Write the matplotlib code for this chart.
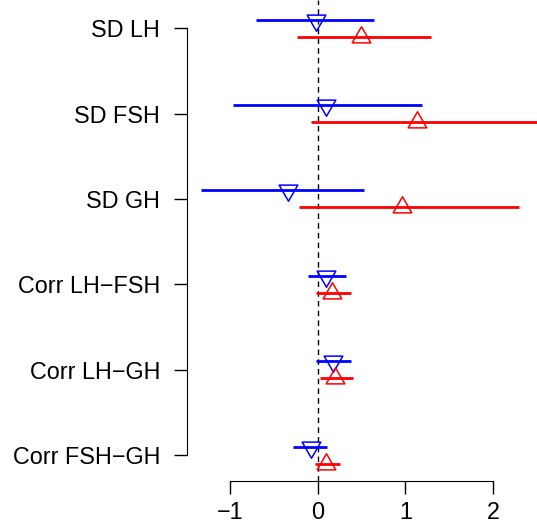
''' forest plot of SD and correlation estimates'''
import matplotlib
matplotlib.use('Agg')
import matplotlib.pyplot as plt
from matplotlib.path import Path

labels = ['SD LH', 'SD FSH', 'SD GH', 'Corr LH\u2212FSH', 'Corr LH\u2212GH',
          'Corr FSH\u2212GH']
rows = [6, 5, 4, 3, 2, 1]

blue_est = [-0.02, 0.10, -0.34, 0.10, 0.17, -0.08]
blue_lo = [-0.70, -0.97, -1.33, -0.11, -0.02, -0.28]
blue_hi = [0.64, 1.19, 0.53, 0.32, 0.38, 0.11]

red_est = [0.49, 1.13, 0.96, 0.16, 0.20, 0.10]
red_lo = [-0.24, -0.08, -0.21, -0.02, 0.03, -0.03]
red_hi = [1.29, 2.60, 2.29, 0.38, 0.40, 0.26]

xticks = [-1, 0, 1, 2]


def tri(sign):
    ''' equilateral triangle centred on its centroid'''
    verts = [(-0.5, -0.2887 * sign), (0.5, -0.2887 * sign),
             (0, 0.5774 * sign), (-0.5, -0.2887 * sign)]
    codes = [Path.MOVETO, Path.LINETO, Path.LINETO, Path.CLOSEPOLY]
    return Path(verts, codes)


def main():
    ''' main function'''
    plt.rcParams['font.family'] = ['Liberation Sans', 'DejaVu Sans']
    fig = plt.figure(figsize=(5.37, 5.31), dpi=100)
    ax = fig.add_axes([0.349, 0.094, 0.651, 0.906])

    up = tri(1)
    down = tri(-1)
    off = 0.1

    ax.axvline(0, color='black', lw=1, dashes=(4, 3), zorder=1)
    for i, r in enumerate(rows):
        ax.plot([blue_lo[i], blue_hi[i]], [r + off, r + off],
                color='blue', lw=2, solid_capstyle='butt')
        ax.plot([red_lo[i], red_hi[i]], [r - off, r - off],
                color='red', lw=2, solid_capstyle='butt')
        ax.plot(blue_est[i], r + off, marker=down, ms=15.5,
                mfc='none', mec='blue', mew=1.1, ls='none')
        ax.plot(red_est[i], r - off, marker=up, ms=15.5,
                mfc='none', mec='red', mew=1.1, ls='none')

    ax.set_xlim(-1.485, 2.50)
    ax.set_ylim(0.695, 6.33)
    ax.set_yticks(rows)
    ax.set_yticklabels(labels, fontsize=16.8)
    ax.set_xticks(xticks)
    ax.set_xticklabels(['\u22121', '0', '1', '2'], fontsize=16.8)
    ax.spines['top'].set_visible(False)
    ax.spines['right'].set_visible(False)
    ax.spines['left'].set_bounds(1, 6)
    ax.spines['bottom'].set_bounds(-1, 2)
    ax.tick_params(axis='both', length=9.5, width=1)
    ax.tick_params(axis='y', pad=10)
    ax.tick_params(axis='x', pad=5)
    fig.savefig('out.png', dpi=100)


if __name__ == '__main__':
    main()
